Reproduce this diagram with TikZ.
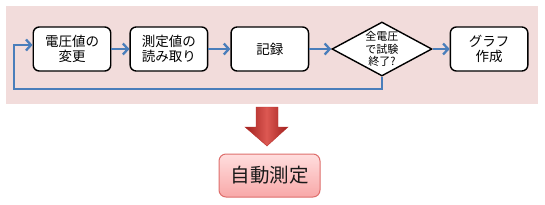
\documentclass[tikz,border=0pt]{standalone}
\usepackage{fontspec}
\setmainfont{Noto Sans CJK JP}
\usetikzlibrary{arrows.meta, positioning, calc, shapes.geometric}
\definecolor{bgpink}{RGB}{242,220,219}
\definecolor{flowblue}{RGB}{74,126,187}
\definecolor{darkred}{RGB}{160,32,30}
\definecolor{midred}{RGB}{185,50,46}
\definecolor{lightred}{RGB}{220,88,82}
\definecolor{boxtop}{RGB}{255,222,222}
\definecolor{boxbot}{RGB}{248,168,168}
\definecolor{boxline}{RGB}{222,110,108}
\tikzset{
  block/.style={draw, rounded corners=6pt, line width=1.4pt, align=center, minimum height=44pt, minimum width=77.5pt, fill=white, font=\fontsize{13.5}{15.5}\selectfont, inner sep=0pt},
  decision/.style={draw, diamond, line width=1.4pt, align=center, minimum height=54pt, minimum width=100pt, aspect=1.85, inner sep=0pt, fill=white, font=\fontsize{11}{12.3}\selectfont},
  result/.style={draw=boxline, rounded corners=7pt, line width=1pt, minimum height=43pt, minimum width=101pt, top color=boxtop, bottom color=boxbot, font=\fontsize{19.5}{22}\selectfont, text=black!90},
  arrow/.style={-{Straight Barb[length=5pt, width=11pt]}, line width=2.3pt, flowblue},
  every node/.style={font=\small}
}
\begin{document}
\begin{tikzpicture}[x=1pt, y=-1pt, node distance=18pt and 20pt]
    \useasboundingbox (0,0) rectangle (545,204);
    \fill[bgpink] (6,6) rectangle (538,104);

    \node[block] (change) at (72,49) {電圧値の\\変更};
    \node[block, right=18pt of change] (read) {測定値の\\読み取り};
    \node[block, right=22pt of read] (record) {記録};
    \node[decision, right=22pt of record] (done) {全電圧\\で試験\\終了?};
    \node[block, right=17pt of done] (graph) {グラフ\\作成};

    \draw[arrow] (change) -- (read);
    \draw[arrow] (read) -- (record);
    \draw[arrow] (record) -- (done);
    \draw[arrow] (done) -- (graph);
    \coordinate (back) at ($(change.west)+(0,-4)$);
    \draw[arrow] (done.south) |- (14,89) |- (back);

    % big arrow down
    \shade[left color=darkred, right color=darkred, middle color=lightred, draw=midred, line width=0.4pt]
      (256,107) -- (278,107) -- (278,127) -- (288,127) -- (267,146)
      -- (245,127) -- (256,127) -- cycle;

    \node[result] (auto) at (269.5,175.5) {自動測定};
\end{tikzpicture}
\end{document}
